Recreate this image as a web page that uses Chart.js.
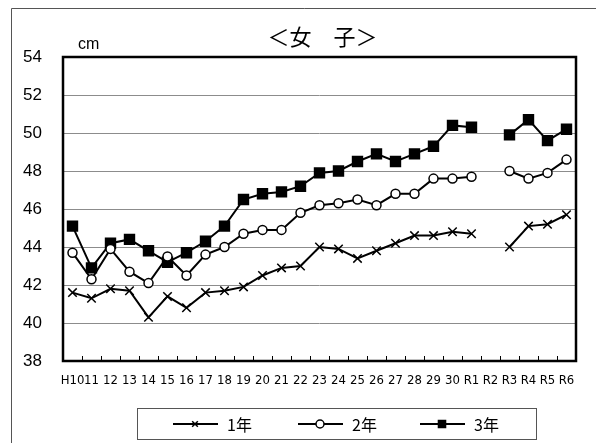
<!DOCTYPE html>
<html>
<head>
<meta charset="utf-8">
<script src="https://cdn.jsdelivr.net/npm/chart.js@4/dist/chart.umd.min.js"></script>
<style>
  body { margin: 0; background: #fff; }
</style>
</head>
<body>
<canvas id="height" width="596" height="443"></canvas>
<script>
// 年度ごとの平均値（女子）
const years = ['H10', '11', '12', '13', '14', '15', '16', '17', '18', '19', '20',
  '21', '22', '23', '24', '25', '26', '27', '28', '29', '30',
  'R1', 'R2', 'R3', 'R4', 'R5', 'R6'];
const grade1 = [41.6, 41.3, 41.8, 41.7, 40.3, 41.4, 40.8, 41.6, 41.7, 41.9, 42.5, 42.9, 43.0,
  44.0, 43.9, 43.4, 43.8, 44.2, 44.6, 44.6, 44.8, 44.7, null, 44.0, 45.1, 45.2, 45.7];
const grade2 = [43.7, 42.3, 43.9, 42.7, 42.1, 43.5, 42.5, 43.6, 44.0, 44.7, 44.9, 44.9, 45.8,
  46.2, 46.3, 46.5, 46.2, 46.8, 46.8, 47.6, 47.6, 47.7, null, 48.0, 47.6, 47.9, 48.6];
const grade3 = [45.1, 42.9, 44.2, 44.4, 43.8, 43.2, 43.7, 44.3, 45.1, 46.5, 46.8, 46.9, 47.2,
  47.9, 48.0, 48.5, 48.9, 48.5, 48.9, 49.3, 50.4, 50.3, null, 49.9, 50.7, 49.6, 50.2];
const seriesNames = ['1年', '2年', '3年'];
const yMin = 38, yMax = 54, yStep = 2;
const titleText = '＜女　子＞';
const unitText = 'cm';

const jp = "'Noto Sans CJK JP', 'Liberation Sans', sans-serif";

// 枠・目盛・凡例は自前で描く
const decor = {
  id: 'decor',
  beforeDraw(chart) {
    const ctx = chart.ctx;
    ctx.save();
    ctx.strokeStyle = '#555';
    ctx.lineWidth = 1;
    ctx.beginPath();
    ctx.moveTo(11.5, 450);
    ctx.lineTo(11.5, 8.5);
    ctx.lineTo(600, 8.5);
    ctx.stroke();

    ctx.fillStyle = '#000';
    ctx.textBaseline = 'middle';
    ctx.textAlign = 'center';
    ctx.font = '22px ' + jp;
    const a = chart.chartArea;
    ctx.fillText(titleText, (a.left + a.right) / 2 + 3, 37);
    ctx.textAlign = 'left';
    ctx.font = "16px 'Liberation Sans', sans-serif";
    ctx.fillText(unitText, 78, 45);
    ctx.restore();
  },
  beforeDatasetsDraw(chart) {
    const ctx = chart.ctx, a = chart.chartArea;
    const w = (a.right - a.left) / years.length;
    ctx.save();
    ctx.strokeStyle = '#000';
    ctx.lineWidth = 1;
    ctx.beginPath();
    for (let i = 1; i < years.length; i++) {
      const px = Math.round(a.left + i * w) + 0.5;
      ctx.moveTo(px, a.bottom);
      ctx.lineTo(px, a.bottom - 5);
    }
    ctx.stroke();
    ctx.restore();
  },
  afterDraw(chart) {
    const ctx = chart.ctx, a = chart.chartArea;
    ctx.save();
    ctx.strokeStyle = '#000';
    ctx.lineWidth = 2.5;
    ctx.strokeRect(a.left, a.top, a.right - a.left, a.bottom - a.top);

    // 凡例
    ctx.strokeStyle = '#555';
    ctx.lineWidth = 1;
    ctx.strokeRect(137.5, 408.5, 399, 31);
    const starts = [173, 298, 420];
    chart.data.datasets.forEach((ds, i) => {
      const x0 = starts[i], y0 = 424;
      ctx.strokeStyle = '#000';
      ctx.lineWidth = 2;
      ctx.beginPath();
      ctx.moveTo(x0, y0);
      ctx.lineTo(x0 + 45, y0);
      ctx.stroke();
      ctx.fillStyle = ds.pointBackgroundColor;
      ctx.lineWidth = 1.5;
      Chart.helpers.drawPoint(ctx, {
        pointStyle: ds.pointStyle,
        radius: ds.pointStyle === 'rect' ? 5 : 4,
        borderWidth: 1.5
      }, x0 + 22, y0);
      ctx.fillStyle = '#000';
      ctx.font = '16px ' + jp;
      ctx.textAlign = 'left';
      ctx.textBaseline = 'middle';
      ctx.fillText(ds.label, x0 + 54, y0 + 1);
    });
    ctx.restore();
  }
};

function series(label, data, style, fill, radius) {
  return {
    label: label,
    data: data,
    borderColor: '#000',
    borderWidth: 2,
    pointStyle: style,
    pointRadius: radius,
    pointBorderWidth: 1.5,
    pointBorderColor: '#000',
    pointBackgroundColor: fill,
    spanGaps: false,
    tension: 0
  };
}

new Chart(document.getElementById('height'), {
  type: 'line',
  data: {
    labels: years,
    datasets: [
      series(seriesNames[0], grade1, 'crossRot', '#000', 6),
      series(seriesNames[1], grade2, 'circle', '#fff', 4.5),
      series(seriesNames[2], grade3, 'rect', '#000', 7)
    ]
  },
  options: {
    responsive: false,
    devicePixelRatio: 1,
    animation: false,
    layout: { padding: { top: 57, left: 0, right: 20, bottom: 0 } },
    plugins: {
      legend: { display: false },
      title: { display: false },
      tooltip: { enabled: false }
    },
    scales: {
      x: {
        offset: true,
        grid: { display: false, drawTicks: false },
        border: { display: false },
        ticks: {
          autoSkip: false,
          maxRotation: 0,
          padding: 12,
          color: '#000',
          font: { family: "'Liberation Sans Narrow', 'DejaVu Sans Condensed', sans-serif", size: 13 }
        },
        afterFit(s) { s.height = 82; }
      },
      y: {
        min: yMin,
        max: yMax,
        ticks: {
          stepSize: yStep,
          padding: 21,
          color: '#000',
          font: { family: "'Liberation Sans', sans-serif", size: 17 }
        },
        grid: { color: '#8c8c8c', lineWidth: 1, drawTicks: false },
        border: { display: false },
        afterFit(s) { s.width = 63; }
      }
    }
  },
  plugins: [decor]
});
</script>
</body>
</html>
